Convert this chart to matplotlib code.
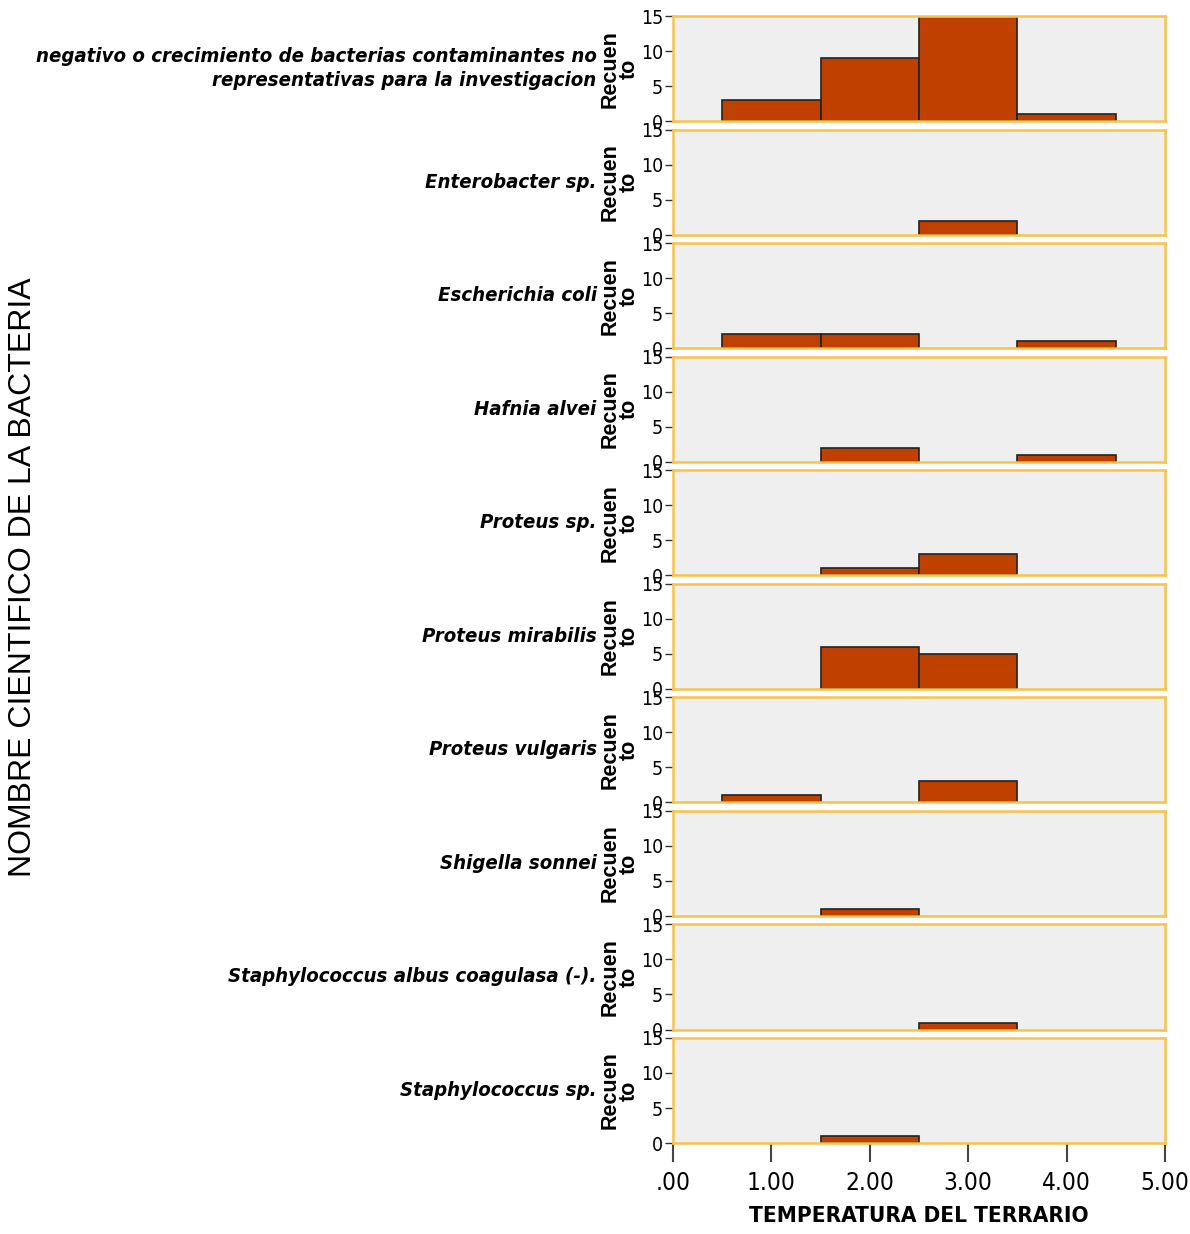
import matplotlib.pyplot as plt
import numpy as np
from matplotlib import font_manager
from matplotlib.font_manager import FontProperties

# Bacteria groups and their counts per temperature bin (bins centred on 1, 2, 3, 4)
bacteria = [
    "negativo o crecimiento de bacterias contaminantes no\nrepresentativas para la investigacion",
    "Enterobacter sp.",
    "Escherichia coli",
    "Hafnia alvei",
    "Proteus sp.",
    "Proteus mirabilis",
    "Proteus vulgaris",
    "Shigella sonnei",
    "Staphylococcus albus coagulasa (-).",
    "Staphylococcus sp.",
]
bin_centers = [1, 2, 3, 4]
counts = [
    [3, 9, 15, 1],
    [0, 0, 2, 0],
    [2, 2, 0, 1],
    [0, 2, 0, 1],
    [0, 1, 3, 0],
    [0, 6, 5, 0],
    [1, 0, 3, 0],
    [0, 1, 0, 0],
    [0, 0, 1, 0],
    [0, 1, 0, 0],
]
x_ticks = [0, 1, 2, 3, 4, 5]
x_ticklabels = [".00", "1.00", "2.00", "3.00", "4.00", "5.00"]
y_ticks = [0, 5, 10, 15]


def find_narrow(italic, bold):
    # look for a condensed / narrow face among the installed fonts
    best = None
    for f in font_manager.fontManager.ttflist:
        tag = (f.name + " " + str(f.stretch) + " " + f.fname).lower()
        if not any(k in tag for k in ("narrow", "condensed")):
            continue
        is_it = f.style in ("italic", "oblique")
        is_bold = (f.weight in ("bold", 700) or
                   (isinstance(f.weight, int) and f.weight >= 600))
        score = (is_it == italic) * 2 + (is_bold == bold)
        if best is None or score > best[0]:
            best = (score, f.fname)
    return best[1] if best else None


def fprops(size, fallback, italic=False, bold=False):
    path = find_narrow(italic, bold)
    if path:
        return FontProperties(fname=path, size=size)
    return FontProperties(family="Liberation Sans", size=fallback,
                          style="italic" if italic else "normal",
                          weight="bold" if bold else "normal")


name_fp = fprops(14.6, 12, italic=True, bold=True)
ytick_fp = fprops(14, 12)
xtick_fp = fprops(17.5, 15)
xlabel_fp = fprops(16.2, 14, bold=True)
sans = ["Liberation Sans", "Arial", "DejaVu Sans"]

bar_color = "#C04000"
frame_color = "#F7C34A"
panel_bg = "#EFEFEF"

fig, axes = plt.subplots(len(bacteria), 1, figsize=(11.9, 12.34), dpi=100, sharex=True)
fig.subplots_adjust(left=0.5655, right=0.979, top=0.987, bottom=0.0737, hspace=0.08)

for ax, name, c in zip(axes, bacteria, counts):
    ax.set_facecolor(panel_bg)
    xs = [b for b, v in zip(bin_centers, c) if v > 0]
    hs = [v for v in c if v > 0]
    ax.bar(xs, hs, width=1.0, color=bar_color, edgecolor="#222222", linewidth=1.2)
    ax.set_xlim(0, 5)
    ax.set_ylim(0, 15)
    ax.set_yticks(y_ticks)
    ax.set_yticklabels([str(t) for t in y_ticks])
    for lab in ax.get_yticklabels():
        lab.set_fontproperties(ytick_fp)
    ax.tick_params(axis="y", length=6, width=1, color="#333333", pad=1)
    ax.tick_params(axis="x", length=0)
    for s in ax.spines.values():
        s.set_color(frame_color)
        s.set_linewidth(1.8)
    ax.set_ylabel("Recuen\nto", fontsize=15.5, fontweight="bold", family=sans,
                  labelpad=1, linespacing=0.9)
    ax.text(-0.155, 0.5, name, transform=ax.transAxes, ha="right", va="center",
            fontproperties=name_fp, linespacing=1.3)

last = axes[-1]
last.set_xticks(x_ticks)
last.set_xticklabels(x_ticklabels)
for lab in last.get_xticklabels():
    lab.set_fontproperties(xtick_fp)
last.tick_params(axis="x", length=14, width=1.5, color="#444444", pad=6)
last.set_xlabel("TEMPERATURA DEL TERRARIO", fontproperties=xlabel_fp, labelpad=8)

fig.text(0.019, 0.532, "NOMBRE CIENTIFICO DE LA BACTERIA", rotation=90,
         ha="center", va="center", fontsize=23, family=sans)

fig.savefig("out.png", dpi=100)
